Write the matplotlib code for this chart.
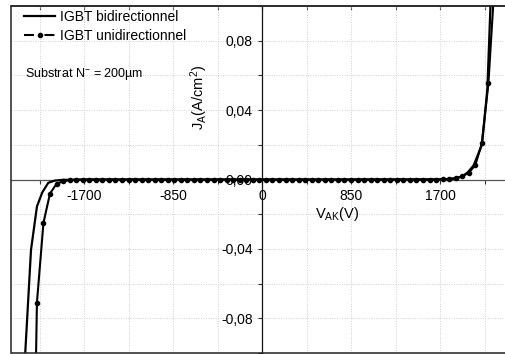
import matplotlib
matplotlib.use("Agg")
import matplotlib.pyplot as plt
from matplotlib.ticker import MultipleLocator
from matplotlib.patches import Rectangle
from matplotlib.lines import Line2D

plt.rcParams['font.family'] = ['Liberation Sans', 'DejaVu Sans']
plt.rcParams['mathtext.fontset'] = 'custom'
plt.rcParams['mathtext.rm'] = 'Liberation Sans'
plt.rcParams['mathtext.it'] = 'Liberation Sans'
plt.rcParams['mathtext.bf'] = 'Liberation Sans:bold'

# ---- data ----
series_names = ["IGBT bidirectionnel", "IGBT unidirectionnel"]

x_bi = [-2300, -2264, -2209, -2152, -2101, -2044, -1980, -1900, -1800, -1700,
        -850, 0, 850, 1700, 1800, 1860, 1910, 1960, 2018, 2098, 2150, 2195]
y_bi = [-0.16, -0.10, -0.0406, -0.0155, -0.0074, -0.0019, -0.0006, -0.0002, -0.0001, 0.0,
        0.0, 0.0, 0.0, 0.0001, 0.0003, 0.0008, 0.0018, 0.0040, 0.0080, 0.0200, 0.0520, 0.125]

x_uni = [-2215, -2152.5, -2090, -2027.5, -1965, -1902.5, -1840, -1777.5, -1715, -1652.5,
         -1590, -1527.5, -1465, -1402.5, -1340, -1277.5, -1215, -1152.5, -1090, -1027.5,
         -965, -902.5, -840, -777.5, -715, -652.5, -590, -527.5, -465, -402.5,
         -340, -277.5, -215, -152.5, -90, -27.5, 35, 97.5, 160, 222.5,
         285, 347.5, 410, 472.5, 535, 597.5, 660, 722.5, 785, 847.5,
         910, 972.5, 1035, 1097.5, 1160, 1222.5, 1285, 1347.5, 1410, 1472.5,
         1535, 1597.5, 1660, 1722.5, 1785, 1847.5, 1910, 1972.5, 2035, 2097.5,
         2160, 2222.5]
y_uni = [-0.30, -0.071, -0.025, -0.0081, -0.0025, -0.0010, -0.0004, -0.0002, -0.0001, 0.0,
         0.0, 0.0, 0.0, 0.0, 0.0, 0.0, 0.0, 0.0, 0.0, 0.0,
         0.0, 0.0, 0.0, 0.0, 0.0, 0.0, 0.0, 0.0, 0.0, 0.0,
         0.0, 0.0, 0.0, 0.0, 0.0, 0.0, 0.0, 0.0, 0.0, 0.0,
         0.0, 0.0, 0.0, 0.0, 0.0, 0.0, 0.0, 0.0, 0.0, 0.0,
         0.0, 0.0, 0.0, 0.0, 0.0, 0.0, 0.0, 0.0, 0.0, 0.0,
         0.0, 0.0, 0.0, 0.0001, 0.0003, 0.0008, 0.0018, 0.0039, 0.0083, 0.0209,
         0.0555, 0.117]

x_ticks = [-1700, -850, 0, 850, 1700]
y_ticks = [-0.08, -0.04, 0.0, 0.04, 0.08]
y_tick_labels = ["-0,08", "-0,04", "0,00", "0,04", "0,08"]

# ---- figure ----
W, H = 505, 354
fig = plt.figure(figsize=(W / 100, H / 100), dpi=100)
ax = fig.add_axes([11 / W, 1 / H, 495 / W, 347 / H])
ax.set_xlim(-2400, 2328)
ax.set_ylim(-0.1, 0.1)

fs = 10

# grid
ax.xaxis.set_minor_locator(MultipleLocator(425))
ax.yaxis.set_minor_locator(MultipleLocator(0.02))
ax.grid(which='both', linestyle=(0, (1, 1.5)), color='#cfcfcf', linewidth=0.7)

# centred axes
ax.spines['left'].set_position(('data', 0))
ax.spines['bottom'].set_position(('data', 0))
ax.spines['left'].set_color('#111111')
ax.spines['bottom'].set_color('#555555')
ax.spines['left'].set_linewidth(0.9)
ax.spines['bottom'].set_linewidth(0.9)
ax.spines['right'].set_visible(False)
ax.spines['top'].set_color('#333333')
ax.spines['top'].set_linewidth(1.1)
ax.add_patch(Rectangle((0, 0), 1, 1, transform=ax.transAxes, fill=False,
                       edgecolor='#222222', linewidth=1.1, zorder=5, clip_on=False))

ax.set_xticks(x_ticks)
ax.set_xticklabels([str(v) for v in x_ticks])
ax.set_yticks(y_ticks)
ax.set_yticklabels(y_tick_labels)
ax.tick_params(axis='x', which='both', direction='out', length=3, width=0.8,
               pad=4, labelsize=fs, top=False, colors='#333333', labelcolor='black')
ax.tick_params(axis='y', which='both', direction='out', length=3, width=0.8,
               pad=4, labelsize=fs, right=False, colors='#333333', labelcolor='black')

# top frame ticks
sec = ax.secondary_xaxis('top')
sec.set_xticks([-2125, -1700, -1275, -850, -425, 0, 425, 850, 1275, 1700, 2125])
sec.tick_params(direction='in', length=3, width=0.8, labeltop=False, colors='#333333')
sec.spines['top'].set_visible(False)

# data
ax.plot(x_bi, y_bi, color='black', linewidth=1.6, zorder=4)
ax.plot(x_uni, y_uni, color='black', linewidth=1.5, marker='o', markersize=3.0, zorder=4)

# legend handles (line / line broken around symbol)
h1 = Line2D([], [], color='black', linewidth=1.6)
h2 = Line2D([], [], color='black', linewidth=1.5, linestyle=(0, (4.8, 5.0)),
            marker='o', markersize=3.0)
ax.legend(handles=[h1, h2], labels=series_names, loc='upper left',
          bbox_to_anchor=(0.01, 1.012), frameon=False, fontsize=fs,
          handlelength=2.2, handletextpad=0.35, labelspacing=0.32,
          numpoints=1, borderaxespad=0.2)

# annotations
ax.text(25, H - 74, "Substrat N$^{-}$ = 200µm", transform=None, fontsize=9,
        ha='left', va='center')
fig.text(337 / W, 1 - 214 / H, "V$_{\\mathrm{AK}}$(V)", fontsize=fs + 0.5,
         ha='center', va='center')
fig.text(199 / W, 1 - 97 / H, "J$_{\\mathrm{A}}$(A/cm$^{2}$)", fontsize=fs + 0.5,
         ha='center', va='center', rotation=90)

fig.savefig("out.png", dpi=100)
